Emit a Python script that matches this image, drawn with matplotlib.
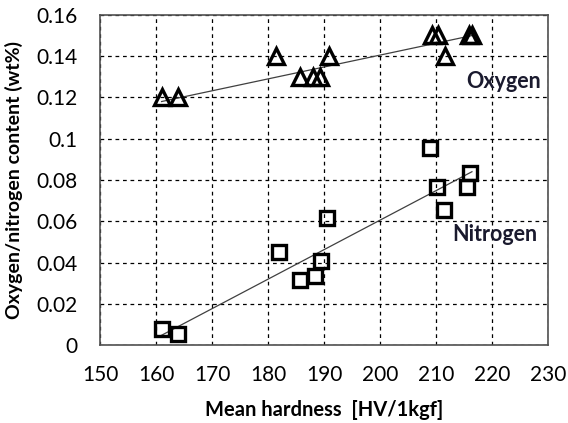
import matplotlib
matplotlib.use("Agg")
import matplotlib.pyplot as plt

# Oxygen data (triangles)
oxy_hv = [161.0, 164.0, 181.5, 185.7, 188.0, 189.3, 190.8, 209.2, 210.4, 211.6, 215.8, 216.4]
oxy_wt = [0.12, 0.12, 0.14, 0.13, 0.13, 0.13, 0.14, 0.15, 0.15, 0.14, 0.15, 0.15]

# Nitrogen data (squares)
nit_hv = [161.0, 163.9, 182.0, 185.7, 188.4, 189.4, 190.6, 208.9, 210.1, 211.4, 215.6, 216.1]
nit_wt = [0.0078, 0.0053, 0.0453, 0.0315, 0.0335, 0.0407, 0.0614, 0.0954, 0.0765, 0.0655, 0.0765, 0.0835]

# trend line end points
oxy_fit_hv = [161.0, 216.5]
oxy_fit_wt = [0.1180, 0.1500]
nit_fit_hv = [161.0, 216.4]
nit_fit_wt = [0.0048, 0.0840]

x_ticks = [150, 160, 170, 180, 190, 200, 210, 220, 230]
y_ticks = [0, 0.02, 0.04, 0.06, 0.08, 0.1, 0.12, 0.14, 0.16]
y_labels = ['0', '0.02', '0.04', '0.06', '0.08', '0.1', '0.12', '0.14', '0.16']

plt.rcParams['font.family'] = ['Lato', 'DejaVu Sans']

fig = plt.figure(figsize=(5.68, 4.23), dpi=100)
ax = fig.add_axes([0.176, 0.184, 0.789, 0.781])

ax.plot(oxy_fit_hv, oxy_fit_wt, color='#404040', lw=0.9, zorder=2)
ax.plot(nit_fit_hv, nit_fit_wt, color='#404040', lw=0.9, zorder=2)

ax.plot(oxy_hv, oxy_wt, linestyle='none', marker='^', ms=11, mfc='none',
        mec='black', mew=2.4, zorder=3)
ax.plot(nit_hv, nit_wt, linestyle='none', marker='s', ms=10, mfc='none',
        mec='black', mew=2.4, zorder=3)

ax.text(215.3, 0.1277, 'Oxygen', fontsize=15.5, fontweight='bold',
        color='#1a1a2e', va='center', ha='left')
ax.text(212.8, 0.0538, 'Nitrogen', fontsize=15.5, fontweight='bold',
        color='#1a1a2e', va='center', ha='left')

ax.set_xlim(150, 230)
ax.set_ylim(0, 0.16)
ax.set_xticks(x_ticks)
ax.set_yticks(y_ticks)
ax.set_yticklabels(y_labels)
ax.tick_params(length=0, labelsize=15)
ax.tick_params(axis='y', pad=16)
ax.tick_params(axis='x', pad=14)

ax.grid(True, color='black', linestyle=(0, (3, 3)), lw=0.9)
for s in ax.spines.values():
    s.set_color('#505050')
    s.set_linewidth(1.2)

ax.set_xlabel('Mean hardness  [HV/1kgf]', fontsize=14.5, fontweight='bold')
ax.xaxis.set_label_coords(0.5, -0.165)
ax.set_ylabel('Oxygen/nitrogen content (wt%)', fontsize=14, fontweight='bold')
ax.yaxis.set_label_coords(-0.172, 0.5)

fig.savefig('out.png', dpi=100)
